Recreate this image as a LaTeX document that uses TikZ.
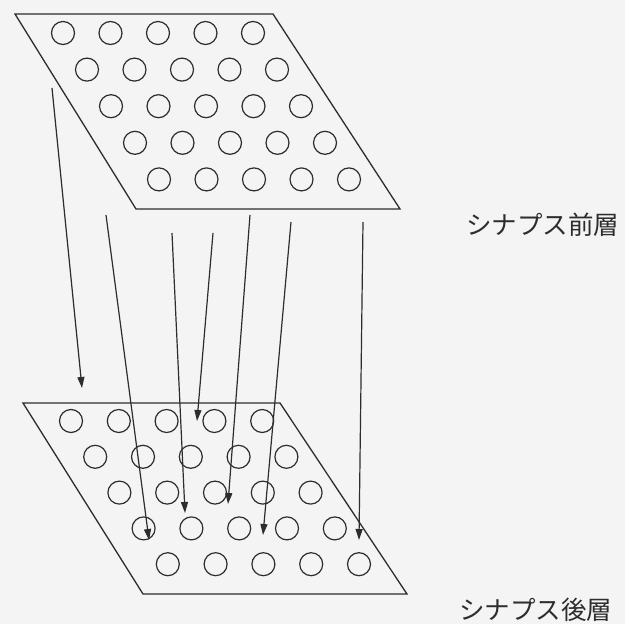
\documentclass[tikz,border=0pt]{standalone}
\usepackage{fontspec}
\newfontfamily\cjk{Noto Sans CJK JP}
\usetikzlibrary{arrows.meta}
\definecolor{ink}{RGB}{45,45,45}
\definecolor{paper}{RGB}{244,244,244}
\tikzset{
  plate/.style={draw=ink, line width=1.3pt, line join=miter},
  cell/.style={circle, draw=ink, line width=1.2pt, minimum size=23pt, inner sep=0pt},
  link/.style={draw=ink, line width=1.2pt, -{Triangle[length=11pt,width=7pt]}},
  lbl/.style={anchor=west, inner sep=0pt, text=ink, font=\cjk\fontsize{25.5pt}{26pt}\selectfont}
}
\begin{document}
\begin{tikzpicture}[x=1pt,y=-1pt]
\fill[paper] (0,0) rectangle (625,624);
\useasboundingbox (0,0) rectangle (625,624);
% upper plate
\draw[plate] (15,14) -- (273,14) -- (400,209) -- (136,209) -- cycle;
\foreach \r in {0,...,4}{
  \foreach \c in {0,...,4}{
    \node[cell] (u\r\c) at ({63+24*\r+47.5*\c},{33+36.6*\r}) {};
  }
}
% lower plate
\draw[plate] (23,403) -- (280,403) -- (407,594) -- (143,594) -- cycle;
\foreach \r in {0,...,4}{
  \foreach \c in {0,...,4}{
    \node[cell] (d\r\c) at ({71+24.2*\r+47.8*\c},{421+35.8*\r}) {};
  }
}
% arrow ends
\coordinate (s1) at (52,88);   \coordinate (e1) at (82,388);
\coordinate (s2) at (106,215); \coordinate (e2) at (149,540);
\coordinate (s3) at (172,233); \coordinate (e3) at (185,513);
\coordinate (s4) at (213,233); \coordinate (e4) at (197,421);
\coordinate (s5) at (250,215); \coordinate (e5) at (228,504);
\coordinate (s6) at (291,222); \coordinate (e6) at (263,535);
\coordinate (s7) at (363,222); \coordinate (e7) at (359,540);
\foreach \i in {1,...,7}{ \draw[link] (s\i) -- (e\i); }
% labels
\node[lbl] (pre) at (466,225) {シナプス前層};
\node[lbl] (post) at (459,610) {シナプス後層};
\end{tikzpicture}
\end{document}
